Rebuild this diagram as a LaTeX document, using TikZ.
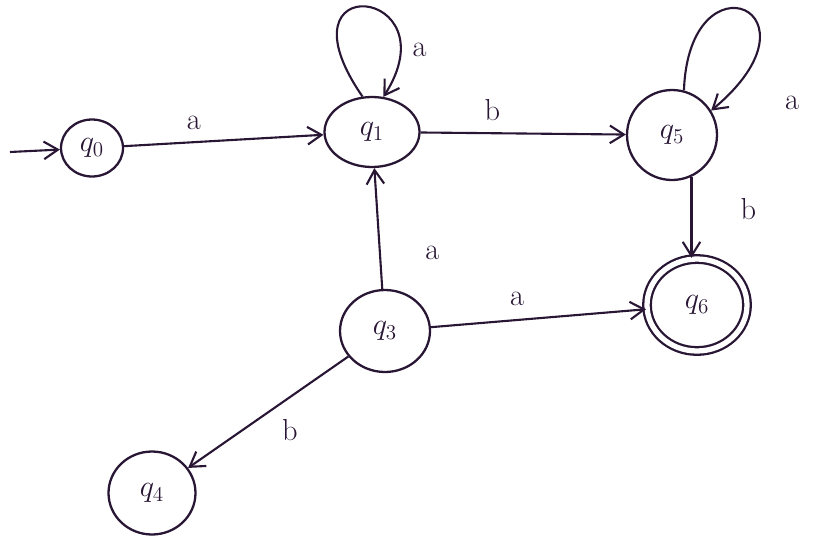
\documentclass[tikz,border=0pt]{standalone}
\usetikzlibrary{shapes.geometric,arrows.meta}
\definecolor{ink}{RGB}{40,22,52}
\begin{document}
\begin{tikzpicture}[x=0.02cm,y=-0.02cm,
  st/.style={draw=ink,line width=1.3pt,ellipse,inner sep=0pt,text=ink,font=\LARGE},
  acc/.style={st,double=white,double distance=3pt},
  tr/.style={draw=ink,line width=1.2pt,-{Straight Barb[length=8pt,width=10pt]}},
  lb/.style={text=ink,font=\LARGE}]
\useasboundingbox (0,0) rectangle (817,548);
\node[st,minimum width=1.24cm,minimum height=1.14cm] (q0) at (92,148) {$q_0$};
\node[st,minimum width=1.9cm,minimum height=1.4cm] (q1) at (372,132) {$q_1$};
\node[st,minimum width=1.8cm,minimum height=1.8cm] (q5) at (672,135) {$q_5$};
\node[acc,minimum width=2.0cm,minimum height=1.84cm] (q6) at (697,305) {$q_6$};
\node[st,minimum width=1.8cm,minimum height=1.64cm] (q3) at (385,331) {$q_3$};
\node[st,minimum width=1.74cm,minimum height=1.66cm] (q4) at (152,493) {$q_4$};
\coordinate (s) at (10,152);
\draw[tr] (s) -- (q0);
\draw[tr] (q0) -- node[lb,above,pos=0.35,yshift=3] {a} (q1);
\draw[tr] (q1) -- node[lb,above,pos=0.35,yshift=3] {b} (q5);
\draw[tr] (q5.-65) -- node[lb,right,pos=0.4,xshift=24] {b} (q6.north -| q5.-65);
\draw[tr] (q3) -- node[lb,right,pos=0.3,xshift=22] {a} (q1);
\draw[tr] (q3) -- node[lb,above,pos=0.4,yshift=4] {a} (q6);
\draw[tr] (q3) -- node[lb,below right,pos=0.5,xshift=4] {b} (q4);
\draw[tr] (q1.105) .. controls +(-90,-130) and +(70,-110) .. node[lb,right,pos=0.75,xshift=5,yshift=-10] {a} (q1.72);
\draw[tr] (q5.75) .. controls +(5,-140) and +(120,-100) .. node[lb,right,pos=0.9,xshift=22,yshift=-12] {a} (q5.32);
\end{tikzpicture}
\end{document}
